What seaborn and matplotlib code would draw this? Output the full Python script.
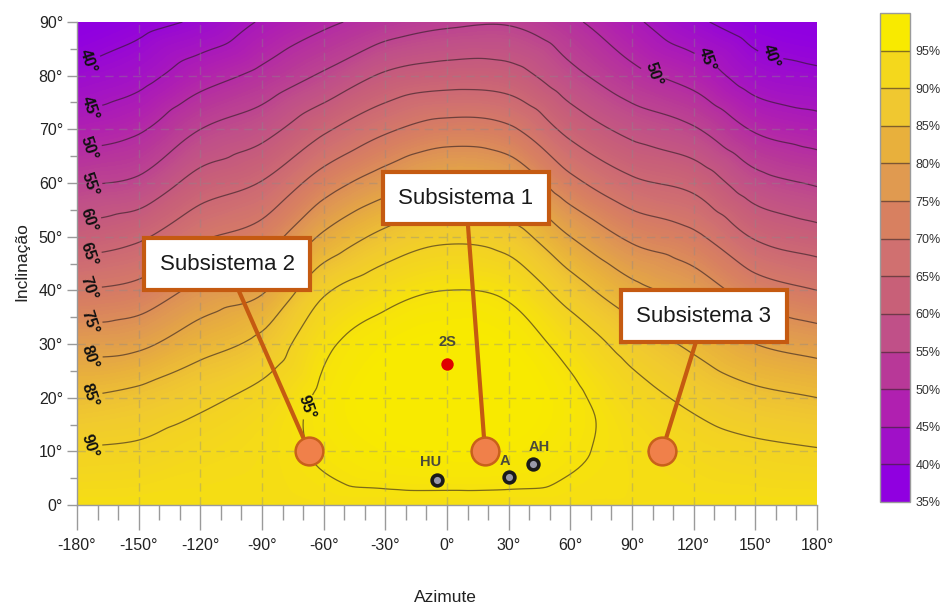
import numpy as np
import pandas as pd
import matplotlib
matplotlib.use("Agg")
import matplotlib.pyplot as plt
import matplotlib.tri as mtri
from matplotlib.colors import LinearSegmentedColormap, ListedColormap, BoundaryNorm
import matplotlib.cm as cm
import seaborn as sns

# ---------------- data ----------------
azimuths = [-180, -150, -120, -90, -60, -30, 0, 30, 60, 90, 120, 150, 180]
inclinations = [0, 10, 20, 30, 40, 50, 60, 70, 80, 90]

# irradiation (% of maximum) at each inclination, one list per azimuth
irr_az_m180 = [94, 90.3, 85.0, 78.0, 70.0, 62.0, 54.5, 47.3, 41.0, 36.0]
irr_az_m150 = [94, 90.8, 86.4, 79.0, 71.5, 64.2, 56.0, 49.4, 43.3, 38.4]
irr_az_m120 = [94, 92.3, 88.8, 83.1, 76.4, 69.3, 62.1, 55.0, 47.9, 40.8]
irr_az_m90 = [94, 93.5, 91.5, 86.4, 79.4, 72.3, 65.3, 58.2, 51.3, 45.5]
irr_az_m60 = [94, 95.5, 95.8, 94.0, 89.2, 80.8, 72.5, 64.2, 55.7, 49.0]
irr_az_m30 = [94, 97.0, 98.5, 97.0, 93.2, 86.3, 77.7, 69.2, 60.7, 52.0]
irr_az_0 = [94, 97.5, 99.0, 98.0, 95.0, 89.0, 81.0, 72.0, 62.5, 54.0]
irr_az_30 = [94, 97.2, 98.7, 97.3, 94.0, 87.5, 79.5, 70.8, 62.0, 54.5]
irr_az_60 = [94, 95.6, 96.0, 93.3, 87.5, 80.0, 71.5, 63.5, 56.5, 51.0]
irr_az_90 = [94, 93.8, 92.0, 88.0, 81.5, 74.0, 66.0, 58.5, 51.5, 46.0]
irr_az_120 = [94, 92.2, 88.8, 84.0, 78.0, 71.0, 63.5, 55.5, 48.0, 41.0]
irr_az_150 = [94, 91.0, 86.3, 80.0, 72.5, 64.5, 57.0, 49.5, 42.5, 37.5]
irr_az_180 = [94, 90.3, 85.0, 78.0, 70.0, 62.0, 54.5, 47.3, 41.0, 36.0]

contour_levels = [40, 45, 50, 55, 60, 65, 70, 75, 80, 85, 90, 95]
colorbar_ticks = [35, 40, 45, 50, 55, 60, 65, 70, 75, 80, 85, 90, 95]

point_names = ["2S", "HU", "A", "AH"]
point_az = [0, -5, 30, 42]
point_inc = [26.3, 4.7, 5.2, 7.6]

sub_names = ["Subsistema 1", "Subsistema 2", "Subsistema 3"]
sub_az = [18.5, -67, 104.6]
sub_inc = [10, 10, 10]

# ---------------- styling ----------------
sns.set_theme(style="white")
plt.rcParams["font.family"] = ["Liberation Sans", "DejaVu Sans"]

band_colors = ["#9000e0", "#a010c8", "#b020b0", "#b83898", "#c05088", "#c86078",
               "#d07070", "#d88060", "#e09a50", "#e8b03c", "#f0c830", "#f4d81c", "#f8ea00"]
band_mid = np.arange(37.5, 100, 5)
cmap = LinearSegmentedColormap.from_list(
    "irr", list(zip((band_mid - band_mid[0]) / (band_mid[-1] - band_mid[0]), band_colors)))

fig = plt.figure(figsize=(9.53, 6.08), dpi=100)
ax = fig.add_axes([77 / 953, 1 - 505 / 608, 740 / 953, 483 / 608])
cax = fig.add_axes([880 / 953, 1 - 502 / 608, 30 / 953, 489 / 608])

# grid -> smooth field
cols = [irr_az_m180, irr_az_m150, irr_az_m120, irr_az_m90, irr_az_m60, irr_az_m30,
        irr_az_0, irr_az_30, irr_az_60, irr_az_90, irr_az_120, irr_az_150, irr_az_180]
Z = np.array(cols).T
AZ, INC = np.meshgrid(np.array(azimuths) / 30.0, np.array(inclinations) / 10.0)
tri = mtri.Triangulation(AZ.ravel(), INC.ravel())
interp = mtri.CubicTriInterpolator(tri, Z.ravel(), kind="geom")
tri_r, z_r = mtri.UniformTriRefiner(tri).refine_field(Z.ravel(), triinterpolator=interp, subdiv=4)
z_r = np.clip(z_r, 35.2, 99.8)
tri_d = mtri.Triangulation(tri_r.x * 30.0, tri_r.y * 10.0, tri_r.triangles)

fill_norm = matplotlib.colors.Normalize(vmin=band_mid[0], vmax=band_mid[-1])
ax.tricontourf(tri_d, z_r, levels=np.arange(35, 100.5, 0.5), cmap=cmap, norm=fill_norm, zorder=0)
cs = ax.tricontour(tri_d, z_r, levels=contour_levels, colors="#2a1a20", linewidths=0.9,
                   alpha=0.6, zorder=1)

label_pos = [(-174, 82), (-174, 74), (-174, 66), (-174, 59.5), (-174, 52), (-174, 46),
             (-174, 39.5), (-174, 34), (-174, 28), (-174, 20.5), (-174, 10.7),
             (-70, 18.6), (101, 81), (125, 82), (156, 82)]
labels = ax.clabel(cs, manual=label_pos, inline=True, fmt="%d°", fontsize=11.5,
                   colors="#111111", inline_spacing=1)
for t in labels:
    t.set_rotation(-72)
    t.set_fontweight("bold")
    t.set_alpha(1.0)
    t.set_color("#111111")

# dashed grid
for gx in range(-150, 180, 30):
    ax.axvline(gx, color="#8a8a8a", lw=1, ls=(0, (6, 4)), alpha=0.38, zorder=1)
for gy in range(10, 90, 10):
    ax.axhline(gy, color="#8a8a8a", lw=1, ls=(0, (6, 4)), alpha=0.38, zorder=1)

# points
pts = pd.DataFrame({"az": point_az, "inc": point_inc, "name": point_names})
sns.scatterplot(data=pts[pts.name == "2S"], x="az", y="inc", ax=ax, color="#e00000",
                s=80, edgecolor="#e00000", linewidth=0, zorder=6, legend=False)
sns.scatterplot(data=pts[pts.name != "2S"], x="az", y="inc", ax=ax, color="#9898a8",
                s=60, edgecolor="#1a1a1a", linewidth=2.6, zorder=6, legend=False)
label_off = {"2S": (0, 4.0), "HU": (-3, 3.4), "A": (-2, 3.0), "AH": (3, 3.2)}
for n, a, i in zip(point_names, point_az, point_inc):
    dx, dy = label_off[n]
    ax.text(a + dx, i + dy, n, ha="center", va="center", fontsize=10.5, fontweight="bold",
            color="#4a4a3a", zorder=6)

# subsystems
subs = pd.DataFrame({"az": sub_az, "inc": sub_inc, "name": sub_names})
sns.scatterplot(data=subs, x="az", y="inc", ax=ax, color="#f0804a", s=400,
                edgecolor="#c8601a", linewidth=1.8, zorder=7, legend=False)
box_pos = {"Subsistema 1": (9.2, 57.2), "Subsistema 2": (-107, 44.9), "Subsistema 3": (125, 35.2)}
for n, a, i in zip(sub_names, sub_az, sub_inc):
    ax.annotate(n, xy=(a, i), xytext=box_pos[n], ha="center", va="center", fontsize=16,
                color="#1a1a1a", zorder=5,
                bbox=dict(boxstyle="square,pad=0.68", fc="white", ec="#c55a11", lw=3),
                arrowprops=dict(arrowstyle="-", color="#c55a11", lw=3, shrinkA=0, shrinkB=0))

# axes
ax.set_xlim(-180, 180)
ax.set_ylim(0, 90)
ax.set_xticks(range(-180, 181, 30))
ax.set_xticklabels([f"{v}°" for v in range(-180, 181, 30)])
ax.set_xticks(range(-180, 181, 10), minor=True)
ax.set_yticks(range(0, 91, 10))
ax.set_yticklabels([f"{v}°" for v in range(0, 91, 10)])
ax.set_yticks(range(0, 91, 5), minor=True)
for t in ax.get_xticklabels() + ax.get_yticklabels():
    t.set_fontsize(11.5)
    t.set_color("#222222")
ax.tick_params(axis="x", which="major", direction="out", length=18, width=1, color="#9a9a9a",
               pad=6, bottom=True)
ax.tick_params(axis="x", which="minor", direction="out", length=11, width=1, color="#9a9a9a", bottom=True)
ax.tick_params(axis="y", which="major", direction="out", length=7, width=1, color="#9a9a9a",
               pad=3, left=True)
ax.tick_params(axis="y", which="minor", direction="out", length=5, width=1, color="#9a9a9a", left=True)
for s in ["top", "right"]:
    ax.spines[s].set_visible(False)
for s in ["left", "bottom"]:
    ax.spines[s].set_color("#9a9a9a")
    ax.spines[s].set_linewidth(1)
ax.set_xlabel("")
ax.set_ylabel("")
fig.text(445 / 953, 1 - 597 / 608, "Azimute", ha="center", va="center", fontsize=12.5, color="#222222")
fig.text(22 / 953, 1 - 262 / 608, "Inclinação", ha="center", va="center", rotation=90,
         fontsize=12.5, color="#222222")

# colorbar
bounds = np.arange(35, 101, 5)
cb_cmap = ListedColormap(band_colors)
cb_norm = BoundaryNorm(bounds, cb_cmap.N)
sm = cm.ScalarMappable(norm=cb_norm, cmap=cb_cmap)
cb = fig.colorbar(sm, cax=cax, ticks=colorbar_ticks, drawedges=True)
cb.dividers.set_color("#3a2a20")
cb.dividers.set_alpha(0.6)
cb.dividers.set_linewidth(1)
cb.outline.set_edgecolor("#9a9a9a")
cb.outline.set_linewidth(1)
cb.set_ticklabels([f"{v}%" for v in colorbar_ticks])
cax.minorticks_off()
cax.tick_params(which="both", length=0, pad=4, labelsize=9, labelcolor="#333333")

fig.savefig("out.png", dpi=100)
